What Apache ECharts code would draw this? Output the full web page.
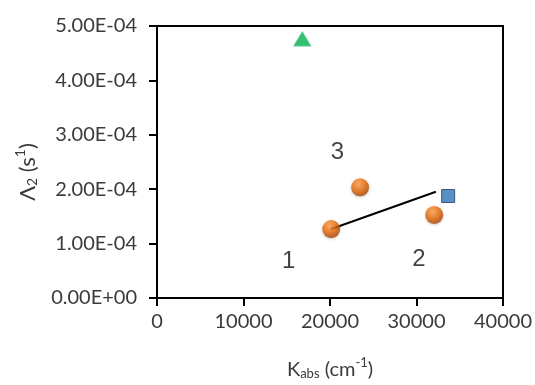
<!DOCTYPE html>
<html>
<head>
<meta charset="utf-8">
<script src="https://cdn.jsdelivr.net/npm/echarts@6/dist/echarts.min.js"></script>
<style>
html,body{margin:0;padding:0;background:#fff;}
#c{width:535px;height:385px;}
</style>
</head>
<body>
<div id="c"></div>
<script>
// Data
var yTickLabels = ['0.00E+00','1.00E-04','2.00E-04','3.00E-04','4.00E-04','5.00E-04'];
var xTickLabels = ['0','10000','20000','30000','40000'];
var circlePoints = [[20140, 1.268e-4], [23480, 2.035e-4], [32050, 1.526e-4]];
var squarePoints = [[33660, 1.875e-4]];
var trianglePoints = [[16800, 4.765e-4]];
var linePoints = [[20140, 1.268e-4], [32240, 1.954e-4]];
var regionLabels = ['1', '2', '3'];
var regionLabelPos = [[15220, 0.68e-4], [30280, 0.717e-4], [20870, 2.675e-4]];

var chart = echarts.init(document.getElementById('c'));
var tickFont = 'Lato, "Liberation Sans", sans-serif';
var txt = '#3a3a3a';

var labelData = regionLabels.map(function(t, i){
  return {value: regionLabelPos[i], name: t};
});

chart.setOption({
  animation: false,
  backgroundColor: '#ffffff',
  grid: {left: 157, right: 31, top: 26, bottom: 87, show: true, borderColor: '#000', borderWidth: 2, backgroundColor: 'transparent'},
  graphic: [
    {
      type: 'text', x: 26, y: 172, rotation: Math.PI / 2,
      style: {
        text: '{n|Λ}{sub|2}{n| (s}{sup|1}{n|)}',
        align: 'center', verticalAlign: 'middle',
        rich: {
          n: {fontFamily: tickFont, fontSize: 22, fill: txt, verticalAlign: 'bottom', lineHeight: 26},
          sub: {fontFamily: tickFont, fontSize: 14, fill: txt, verticalAlign: 'bottom', lineHeight: 16},
          sup: {fontFamily: tickFont, fontSize: 14, fill: txt, verticalAlign: 'top', lineHeight: 16}
        }
      }
    }
  ],
  xAxis: {
    type: 'value', min: 0, max: 40000, interval: 10000,
    splitLine: {show: false},
    axisLine: {show: true, onZero: false, lineStyle: {color: '#000', width: 2}},
    axisTick: {show: true, inside: false, length: 8, lineStyle: {color: '#000', width: 2}},
    axisLabel: {
      margin: 14, color: txt, fontFamily: tickFont, fontSize: 20,
      formatter: function(v, i){ return xTickLabels[Math.round(v/10000)]; }
    },
    name: '{n|K}{sub|abs}{n| (cm}{sup|-1}{n|)}',
    nameLocation: 'middle', nameGap: 58,
    nameTextStyle: {
      rich: {
        n: {fontFamily: tickFont, fontSize: 20, color: txt, verticalAlign: 'bottom', lineHeight: 24},
        sub: {fontFamily: tickFont, fontSize: 13, color: txt, verticalAlign: 'bottom', lineHeight: 14},
        sup: {fontFamily: tickFont, fontSize: 13, color: txt, verticalAlign: 'top', lineHeight: 14}
      }
    }
  },
  yAxis: {
    type: 'value', min: 0, max: 5e-4, interval: 1e-4,
    splitLine: {show: false},
    axisLine: {show: true, onZero: false, lineStyle: {color: '#000', width: 2}},
    axisTick: {show: true, inside: false, length: 8, lineStyle: {color: '#000', width: 2}},
    axisLabel: {
      margin: 20, color: txt, fontFamily: tickFont, fontSize: 20,
      formatter: function(v, i){ return yTickLabels[Math.round(v/1e-4)]; }
    }
  },
  series: [
    {
      type: 'line', data: linePoints, symbol: 'none',
      lineStyle: {color: '#000', width: 2}, z: 3
    },
    {
      type: 'scatter', data: circlePoints, symbol: 'circle', symbolSize: 18,
      itemStyle: {
        color: {type: 'radial', x: 0.4, y: 0.32, r: 0.75, colorStops: [
          {offset: 0, color: '#FFA24A'}, {offset: 0.45, color: '#EE6E0A'}, {offset: 1, color: '#9A3E00'}
        ]},
        shadowColor: 'rgba(0,0,0,0.25)', shadowBlur: 3, shadowOffsetY: 1
      }, z: 4
    },
    {
      type: 'scatter', data: squarePoints, symbol: 'rect', symbolSize: 13,
      itemStyle: {color: '#2E75B6', borderColor: '#1F3B5A', borderWidth: 1}, z: 4
    },
    {
      type: 'scatter', data: trianglePoints, symbol: 'triangle', symbolSize: [18, 15],
      itemStyle: {color: '#00B050', borderColor: '#9fd8b0', borderWidth: 0.8}, z: 4
    },
    {
      type: 'scatter', data: labelData, symbolSize: 1,
      itemStyle: {color: 'rgba(0,0,0,0)'},
      label: {
        show: true, position: 'inside', formatter: '{b}',
        fontFamily: '"Liberation Sans", Arial, sans-serif', fontSize: 24, color: '#111'
      }, z: 5
    }
  ]
});
</script>
</body>
</html>
